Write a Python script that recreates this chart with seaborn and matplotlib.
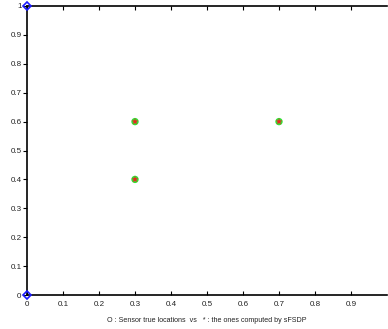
import matplotlib
matplotlib.use("Agg")
import matplotlib.pyplot as plt
import seaborn as sns
import pandas as pd

# anchors (blue diamonds)
anchor_x = [0.0, 0.0]
anchor_y = [0.0, 1.0]

# sensor true locations and computed ones
sensor_x = [0.3, 0.3, 0.7]
sensor_y = [0.6, 0.4, 0.6]
est_x = [0.3, 0.3, 0.7]
est_y = [0.6, 0.4, 0.6]

ticks = [0, 0.1, 0.2, 0.3, 0.4, 0.5, 0.6, 0.7, 0.8, 0.9, 1]
tick_labels = ["0", "0.1", "0.2", "0.3", "0.4", "0.5", "0.6", "0.7", "0.8", "0.9", "1"]

sns.set_style("white")
plt.rcParams['font.family'] = ['Liberation Sans', 'DejaVu Sans']

fig = plt.figure(figsize=(3.88, 3.29), dpi=100)
ax = fig.add_axes([27 / 388, 1 - 295 / 329, 360 / 388, 289 / 329])
ax.patch.set_visible(False)

true_df = pd.DataFrame({'x': sensor_x, 'y': sensor_y})
est_df = pd.DataFrame({'x': est_x, 'y': est_y})
anc_df = pd.DataFrame({'x': anchor_x, 'y': anchor_y})

sns.scatterplot(data=true_df, x='x', y='y', ax=ax, marker='o', s=28,
                color='#33dd33', edgecolor='none', zorder=3)
sns.scatterplot(data=est_df, x='x', y='y', ax=ax, marker='*', s=26,
                color='#ee2222', edgecolor='none', zorder=4)
ax.plot(anc_df['x'], anc_df['y'], linestyle='none', marker='D', markersize=4,
        markerfacecolor='none', markeredgecolor='#1a1aff', markeredgewidth=1.2,
        zorder=5, clip_on=False)

ax.set_xlim(0, 1)
ax.set_ylim(0, 1)
ax.set_xticks(ticks[:-1])
ax.set_xticklabels(tick_labels[:-1])
ax.set_yticks(ticks)
ax.set_yticklabels(tick_labels)
ax.tick_params(axis='x', direction='in', length=3, width=0.8, labelsize=5.8,
               pad=4, top=True, bottom=True, colors='black', labelcolor='#222222')
ax.tick_params(axis='y', direction='out', length=3, width=0.8, labelsize=5.8,
               pad=1, left=True, right=False, colors='black', labelcolor='#222222')

for side in ['left', 'bottom', 'top']:
    ax.spines[side].set_visible(True)
    ax.spines[side].set_color('black')
    ax.spines[side].set_linewidth(1.2)
# no right border in the reference
ax.spines['right'].set_visible(False)
ax.spines['right'].set_color('white')
ax.spines['right'].set_linewidth(0)

ax.set_xlabel("O : Sensor true locations  vs   * : the ones computed by sFSDP",
              fontsize=5.1, color='#222222', labelpad=7)
ax.set_ylabel("")

fig.savefig("out.png", dpi=100, facecolor='white', edgecolor='none')
